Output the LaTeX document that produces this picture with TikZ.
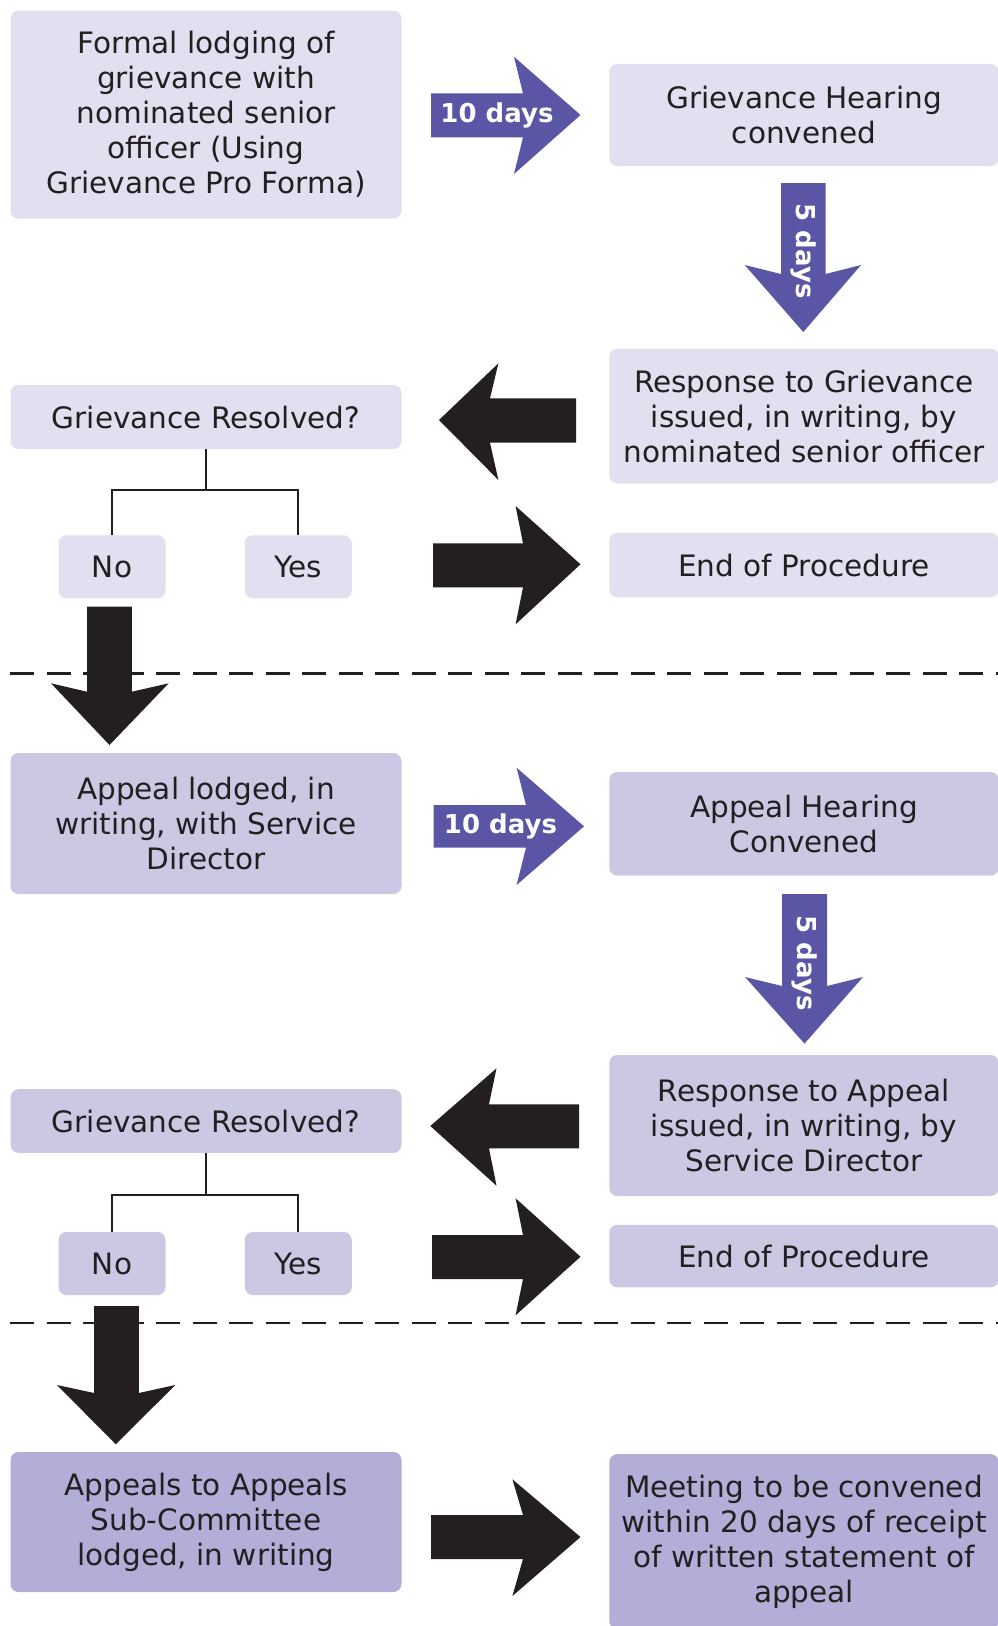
\documentclass[tikz,border=0pt]{standalone}
\usepackage{fontspec}
\setmainfont{DejaVu Sans}
\usepackage{tikz}
\usetikzlibrary{positioning}
\definecolor{inkdark}{HTML}{231F20}
\definecolor{palelav}{HTML}{E1DFF0}
\definecolor{midlav}{HTML}{CBC8E4}
\definecolor{deeplav}{HTML}{B3AED8}
\definecolor{arrowpurple}{HTML}{5A56A5}

\begin{document}
\begin{tikzpicture}[
        x=1pt,y=-1pt,
        stage/.style={fill=palelav,rounded corners=8pt,minimum width=391pt,
                      inner sep=2pt,align=center,text=inkdark,
                      font=\fontsize{29.5}{35}\selectfont},
        rstage/.style={stage,minimum width=389.5pt},
        choice/.style={stage,minimum width=107pt,minimum height=63pt},
        tree/.style={draw=inkdark,line width=2pt},
        divider/.style={draw=inkdark,line width=2.4pt,dash pattern=on 24pt off 12.5pt},
        daylabel/.style={text=white,font=\fontsize{26}{30}\selectfont\bfseries,inner sep=0pt}
      ]
        \useasboundingbox (0,0) rectangle (998,1626);

        % first stage
        \node[stage,minimum height=208pt] (lodge) at (206,114.6)
          {Formal lodging of\\grievance with\\nominated senior\\officer (Using\\Grievance Pro Forma)};
        \node[rstage,minimum height=102pt] (hearing) at (804,115) {Grievance Hearing\\convened};
        \node[rstage,minimum height=135pt] (response) at (804,416)
          {Response to Grievance\\issued, in writing, by\\nominated senior officer};
        \node[stage,minimum height=64pt] (resolved) at (206,417) {Grievance Resolved?};
        \node[choice] (no) at (112,566.8) {No};
        \node[choice] (yes) at (298.3,566.8) {Yes};
        \node[rstage,minimum height=64.5pt] (endproc) at (804,565) {End of Procedure};

        \coordinate (fork) at (206,489.6);
        \draw[tree] (resolved.south) -- (fork) -| (no.north);
        \draw[tree] (fork) -| (yes.north);

        % second stage
        \node[stage,fill=midlav,minimum height=141pt] (appeal) at (206,823.5)
          {Appeal lodged, in\\writing, with Service\\Director};
        \node[rstage,fill=midlav,minimum height=103.6pt] (apphearing) at (804,823.8)
          {Appeal Hearing\\Convened};
        \node[rstage,fill=midlav,minimum height=141pt] (appresponse) at (804,1125.5)
          {Response to Appeal\\issued, in writing, by\\Service Director};
        \node[stage,fill=midlav,minimum height=63.6pt] (resolvedb) at (206,1121) {Grievance Resolved?};
        \node[choice,fill=midlav] (nob) at (112,1263.5) {No};
        \node[choice,fill=midlav] (yesb) at (298.3,1263.5) {Yes};
        \node[rstage,fill=midlav,minimum height=62.5pt] (endprocb) at (804,1256) {End of Procedure};

        \coordinate (forkb) at (206,1195);
        \draw[tree] (resolvedb.south) -- (forkb) -| (nob.north);
        \draw[tree] (forkb) -| (yesb.north);

        % third stage
        \node[stage,fill=deeplav,minimum height=140pt] (subcttee) at (206,1522)
          {Appeals to Appeals\\Sub-Committee\\lodged, in writing};
        \node[rstage,fill=deeplav,minimum height=175pt] (meeting) at (804,1541.6)
          {Meeting to be convened\\within 20 days of receipt\\of written statement of\\appeal};

        % dividers
        \draw[divider] (10.4,673.3) -- (998,673.3);
        \draw[divider] (10.4,1322.7) -- (998,1322.7);

        % timed arrows
        \fill[arrowpurple] (431,93.3) -- (523,93.3) -- (514,56.7) -- (580.5,115)
          -- (514,174) -- (523,137.3) -- (431,137.3) -- cycle;
        \node[daylabel] (tendays) at (497,115) {10 days};
        \fill[arrowpurple] (781,183) -- (825.6,183) -- (825.6,274) -- (861,265)
          -- (803.3,332) -- (744.7,265) -- (781,274) -- cycle;
        \node[daylabel,rotate=-90] (fivedays) at (803.3,251) {5 days};

        \fill[arrowpurple] (433.6,805) -- (526,805) -- (516.6,767.7) -- (584,826.3)
          -- (516.6,885) -- (526,847.6) -- (433.6,847.6) -- cycle;
        \node[daylabel] (tendaysb) at (500.5,826.3) {10 days};
        \fill[arrowpurple] (782,894) -- (827,894) -- (827,986) -- (863,977)
          -- (804.5,1043.6) -- (745,977) -- (782,986) -- cycle;
        \node[daylabel,rotate=-90] (fivedaysb) at (804.5,963) {5 days};

        % black arrows
        \fill[inkdark] (439,420) -- (498.4,363.3) -- (490,398.3) -- (576,398.3)
          -- (576,442.7) -- (490,442.7) -- (498.4,480) -- cycle;
        \fill[inkdark] (433,543.3) -- (523,543.3) -- (515.6,506) -- (580.5,564.3)
          -- (515.6,624.3) -- (523,587.3) -- (433,587.3) -- cycle;
        \fill[inkdark] (87,606.7) -- (131.8,606.7) -- (131.8,691.7) -- (168.7,683.3)
          -- (109.5,745) -- (51,683.3) -- (87,691.7) -- cycle;

        \fill[inkdark] (430.3,1126) -- (496.5,1068.3) -- (489,1104.3) -- (579,1104.3)
          -- (579,1148.3) -- (489,1148.3) -- (496.5,1185.7) -- cycle;
        \fill[inkdark] (432,1235) -- (523,1235) -- (515.6,1198.3) -- (580.5,1256.7)
          -- (515.6,1315.3) -- (523,1279) -- (432,1279) -- cycle;
        \fill[inkdark] (94.2,1306) -- (138.8,1306) -- (138.8,1393) -- (175.3,1385)
          -- (115.8,1444.3) -- (57,1385) -- (94.2,1393) -- cycle;

        \fill[inkdark] (431,1515) -- (523,1515) -- (512.4,1479.3) -- (580.5,1537)
          -- (512.4,1596) -- (523,1559) -- (431,1559) -- cycle;
      \end{tikzpicture}
\end{document}
